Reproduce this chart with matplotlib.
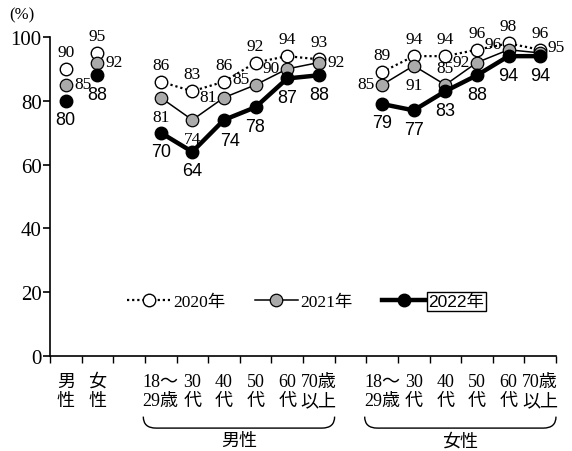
import numpy as np
import matplotlib.pyplot as plt
import matplotlib.transforms as mtransforms
from matplotlib.path import Path
from matplotlib.patches import PathPatch
from matplotlib.lines import Line2D

SERIF = ['Liberation Serif', 'Noto Sans CJK JP']
SANS = ['Liberation Sans', 'Noto Sans CJK JP']

# x slots (2 and 9 are left empty as gaps)
total_x = [0, 1]
men_x = [3, 4, 5, 6, 7, 8]
women_x = [10, 11, 12, 13, 14, 15]

age_labels = ['18～\n29歳', '30\n代', '40\n代', '50\n代', '60\n代', '70歳\n以上']
total_labels = ['男\n性', '女\n性']
years = ['2020年', '2021年', '2022年']

total_2020 = [90, 95]
total_2021 = [85, 92]
total_2022 = [80, 88]
men_2020 = [86, 83, 86, 92, 94, 93]
men_2021 = [81, 74, 81, 85, 90, 92]
men_2022 = [70, 64, 74, 78, 87, 88]
women_2020 = [89, 94, 94, 96, 98, 96]
women_2021 = [85, 91, 85, 92, 96, 95]
women_2022 = [79, 77, 83, 88, 94, 94]

# where each value label sits relative to its marker
place_2020 = ['a', 'a'] + ['a'] * 6 + ['a'] * 6
place_2021 = ['r', 'r'] + ['b', 'b', 'l', 'ul', 'l', 'r'] + ['l', 'b', 'a', 'l', 'ul', 'ur']
place_2022 = ['b', 'b'] + ['b', 'b', 'br', 'b', 'b', 'b'] + ['b'] * 6
offsets = {'a': (0, 17), 'b': (0, -19), 'l': (-16, 1), 'r': (17, 1),
           'ul': (-15, 6), 'ur': (16, 6), 'br': (6, -21)}

fig = plt.figure(figsize=(5.72, 4.52), dpi=100)
ax = fig.add_axes([50 / 572, 95 / 452, 506 / 572, 319 / 452])

styles = {
    '2020年': dict(color='black', lw=1.6, ls=(0, (1, 1.3)), marker='o', ms=9,
                  mfc='white', mec='black', mew=1.0, zorder=3),
    '2021年': dict(color='black', lw=1.1, ls='-', marker='o', ms=9,
                  mfc='#aaaaaa', mec='black', mew=0.9, zorder=4),
    '2022年': dict(color='black', lw=3.2, ls='-', marker='o', ms=9,
                  mfc='black', mec='black', mew=1.0, zorder=5),
}

series = {
    '2020年': (total_2020, men_2020, women_2020, place_2020),
    '2021年': (total_2021, men_2021, women_2021, place_2021),
    '2022年': (total_2022, men_2022, women_2022, place_2022),
}

for y in years:
    tot, men, wom, place = series[y]
    st = styles[y]
    # overall men / women: markers only
    ax.plot(total_x, tot, ls='none', clip_on=False,
            **{k: v for k, v in st.items() if k not in ('ls', 'lw')})
    ax.plot(men_x, men, clip_on=False, **st)
    ax.plot(women_x, wom, clip_on=False, **st)
    xs = total_x + men_x + women_x
    vals = tot + men + wom
    for x, v, p in zip(xs, vals, place):
        if y == '2022年':
            font = dict(family=SANS, fontsize=13)
        else:
            font = dict(family=SERIF, fontsize=12.5)
        ax.annotate(str(v), (x, v), xytext=offsets[p], textcoords='offset pixels',
                    ha='center', va='center', annotation_clip=False, zorder=6, **font)

ax.set_xlim(-0.5, 15.5)
ax.set_ylim(0, 100)
ax.spines['top'].set_visible(False)
ax.spines['right'].set_visible(False)
ax.spines['left'].set_linewidth(1.2)
ax.spines['bottom'].set_linewidth(1.2)

ax.set_yticks(np.arange(0, 101, 20))
ax.set_yticklabels([str(v) for v in range(0, 101, 20)], family=SERIF, fontsize=15)
ax.tick_params(axis='y', length=5, width=1.2, pad=1)

ax.set_xticks(np.arange(-0.5, 16, 1))
ax.set_xticklabels([])
ax.set_xticks(total_x + men_x + women_x, labels=total_labels + age_labels + age_labels, minor=True)
ax.tick_params(axis='x', which='major', length=5, width=1.0)
ax.tick_params(axis='x', which='minor', length=0, pad=12)
for t in ax.get_xticklabels(minor=True):
    t.set_fontfamily(SERIF)
    t.set_fontsize(13)
    t.set_linespacing(1.2)

# braces below the age groups
trans = mtransforms.blended_transform_factory(ax.transData, ax.transAxes)
for xs, name in [(men_x, '男性'), (women_x, '女性')]:
    x0, x1 = xs[0] - 0.55, xs[-1] + 0.5
    ytop, ybot, r = -0.19, -0.226, 0.4
    verts = [(x0, ytop), (x0, ybot), (x0 + r, ybot), (x1 - r, ybot),
             (x1, ybot), (x1, ytop)]
    codes = [Path.MOVETO, Path.CURVE3, Path.CURVE3, Path.LINETO, Path.CURVE3, Path.CURVE3]
    ax.add_patch(PathPatch(Path(verts, codes), fill=False, lw=1.0,
                           transform=trans, clip_on=False))
    ax.text((x0 + x1) / 2, -0.266, name, transform=trans, ha='center', va='center',
            family=SANS, fontsize=13)

fig.text(22 / 572, 1 - 15 / 452, '(%)', ha='center', va='center', family=SERIF, fontsize=12)

handles = [Line2D([], [], **{k: v for k, v in styles[y].items() if k != 'zorder'}) for y in years]
leg = ax.legend(handles, years, ncol=3, loc='center', bbox_to_anchor=(0.505, 0.169),
                frameon=False, handlelength=2.5, handletextpad=0.15, columnspacing=1.7,
                prop=dict(family=SERIF, size=12.5))
texts = leg.get_texts()
texts[2].set_fontfamily(SANS)
texts[2].set_bbox(dict(boxstyle='square,pad=0.1', facecolor='white', edgecolor='black', lw=1.0))

fig.savefig('out.png', dpi=100)
